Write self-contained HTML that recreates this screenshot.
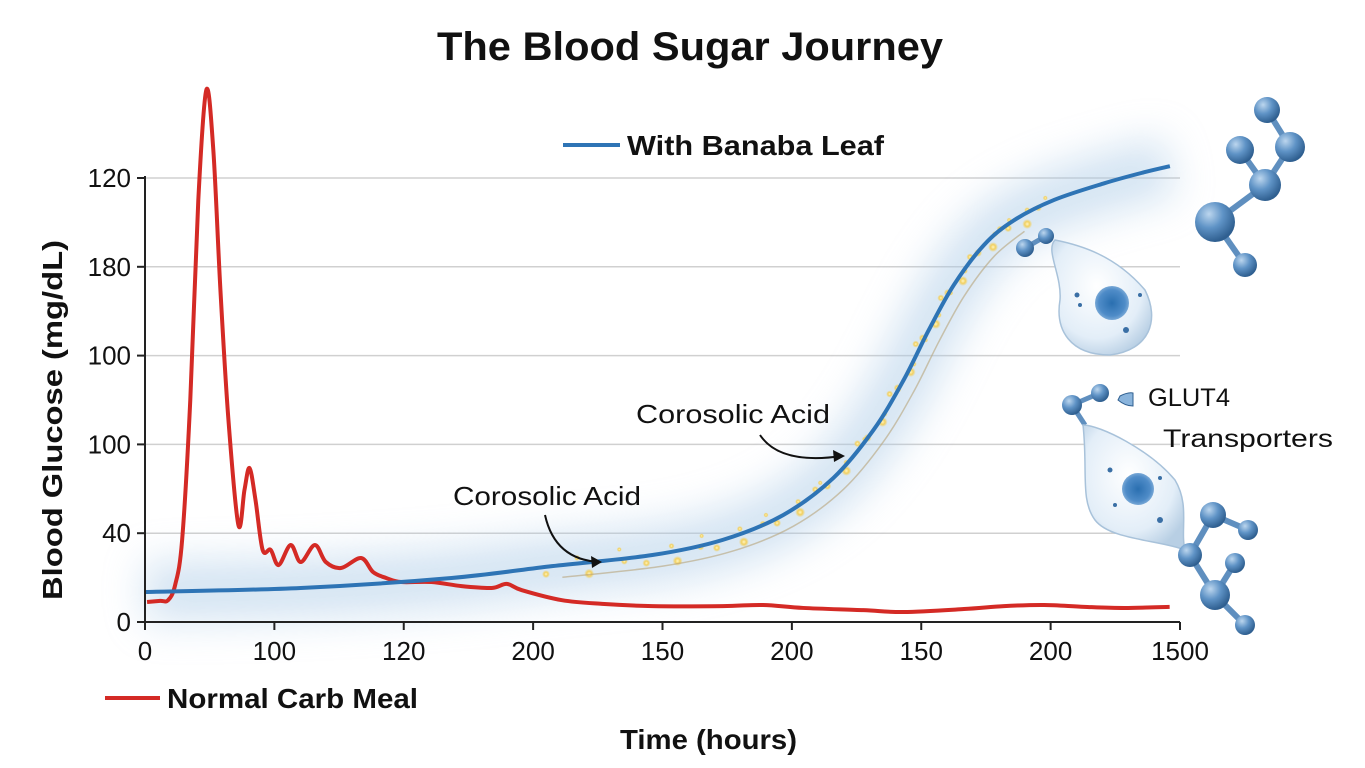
<!DOCTYPE html>
<html><head><meta charset="utf-8"><style>
body{margin:0;background:#fff;}
svg{display:block;font-family:"Liberation Sans",sans-serif;}
</style></head><body>
<svg id="chart" width="1365" height="768" viewBox="0 0 1365 768">
<defs>
<filter id="blur" x="-20%" y="-50%" width="140%" height="200%"><feGaussianBlur stdDeviation="20"/></filter>
<radialGradient id="atom" cx="35%" cy="30%" r="70%"><stop offset="0" stop-color="#bcd6ee"/><stop offset="0.5" stop-color="#5f93c6"/><stop offset="1" stop-color="#2f5f90"/></radialGradient>
<radialGradient id="cell" cx="45%" cy="40%" r="65%"><stop offset="0" stop-color="#ffffff"/><stop offset="0.7" stop-color="#e3eef8"/><stop offset="1" stop-color="#b8cfe4"/></radialGradient>
<radialGradient id="nuc" cx="50%" cy="50%" r="55%"><stop offset="0" stop-color="#2a6fb0"/><stop offset="0.7" stop-color="#4f8cc8"/><stop offset="1" stop-color="#8ab4dc"/></radialGradient>
<radialGradient id="spark"><stop offset="0" stop-color="#fff6c0"/><stop offset="0.5" stop-color="#f2d060"/><stop offset="1" stop-color="#f2d060" stop-opacity="0"/></radialGradient>
</defs>
<text x="437" y="60" textLength="506" lengthAdjust="spacingAndGlyphs" font-size="40" font-weight="bold" fill="#111">The Blood Sugar Journey</text>
<g id="grid"></g>
<g id="glow"></g>
<g id="sparkles"></g>
<g id="series"></g>
<g id="axes"></g>
<line x1="563" y1="145" x2="620" y2="145" stroke="#2e74b5" stroke-width="4"/>
<text x="627" y="155" textLength="257" lengthAdjust="spacingAndGlyphs" font-size="28" font-weight="bold" fill="#111">With Banaba Leaf</text>
<line x1="105" y1="698" x2="160" y2="698" stroke="#d42a25" stroke-width="4"/>
<text x="167" y="708" textLength="251" lengthAdjust="spacingAndGlyphs" font-size="28" font-weight="bold" fill="#111">Normal Carb Meal</text>
<text x="620" y="749" textLength="177" lengthAdjust="spacingAndGlyphs" font-size="28" font-weight="bold" fill="#111">Time (hours)</text>
<text transform="translate(62,600) rotate(-90)" textLength="360" lengthAdjust="spacingAndGlyphs" font-size="28" font-weight="bold" fill="#111">Blood Glucose  (mg/dL)</text>
<text x="453" y="505" textLength="188" lengthAdjust="spacingAndGlyphs" font-size="26" fill="#111">Corosolic Acid</text>
<path d="M545,515 Q555,560 600,562" fill="none" stroke="#111" stroke-width="2"/>
<path d="M602,562 L591,556 L592,568 Z" fill="#111"/>
<text x="636" y="423" textLength="194" lengthAdjust="spacingAndGlyphs" font-size="26" fill="#111">Corosolic Acid</text>
<path d="M760,435 Q780,465 842,456" fill="none" stroke="#111" stroke-width="2"/>
<path d="M845,456 L833,450 L834,462 Z" fill="#111"/>
<g stroke="#5f8fbf" stroke-width="6">
<line x1="1267" y1="110" x2="1290" y2="147"/><line x1="1290" y1="147" x2="1265" y2="185"/><line x1="1240" y1="150" x2="1265" y2="185"/><line x1="1265" y1="185" x2="1215" y2="222"/><line x1="1215" y1="222" x2="1245" y2="265"/>
<g stroke="none" fill="url(#atom)"><circle cx="1267" cy="110" r="13"/><circle cx="1290" cy="147" r="15"/><circle cx="1240" cy="150" r="14"/><circle cx="1265" cy="185" r="16"/><circle cx="1215" cy="222" r="20"/><circle cx="1245" cy="265" r="12"/></g>
</g>
<g>
<line x1="1025" y1="248" x2="1046" y2="236" stroke="#5f8fbf" stroke-width="5"/>
<circle cx="1025" cy="248" r="9" fill="url(#atom)"/><circle cx="1046" cy="236" r="8" fill="url(#atom)"/>
<path d="M1055,240 C1080,245 1115,255 1145,290 C1160,320 1150,350 1110,355 C1070,355 1055,330 1060,300 C1062,275 1045,250 1055,240 Z" fill="url(#cell)" stroke="#a8c2da" stroke-width="1.5"/>
<circle cx="1112" cy="303" r="17" fill="url(#nuc)"/>
<circle cx="1077" cy="295" r="2.5" fill="#3a6fa5"/><circle cx="1140" cy="295" r="2" fill="#3a6fa5"/><circle cx="1126" cy="330" r="3" fill="#3a6fa5"/><circle cx="1080" cy="305" r="2" fill="#3a6fa5"/>
</g>
<g>
<line x1="1072" y1="405" x2="1100" y2="393" stroke="#5f8fbf" stroke-width="5"/><line x1="1072" y1="405" x2="1085" y2="425" stroke="#5f8fbf" stroke-width="5"/>
<circle cx="1072" cy="405" r="10" fill="url(#atom)"/><circle cx="1100" cy="393" r="9" fill="url(#atom)"/>
<path d="M1120,396 Q1128,392 1133,393 L1133,406 Q1125,406 1118,400 Z" fill="#8ab4dc" stroke="#2f5f90"/>
<path d="M1083,425 C1100,425 1150,450 1175,480 C1190,505 1180,530 1185,550 C1160,540 1110,540 1095,520 C1080,500 1088,470 1083,425 Z" fill="url(#cell)" stroke="#a8c2da" stroke-width="1.5"/>
<circle cx="1138" cy="489" r="16" fill="url(#nuc)"/>
<circle cx="1110" cy="470" r="2.5" fill="#3a6fa5"/><circle cx="1160" cy="478" r="2" fill="#3a6fa5"/><circle cx="1115" cy="505" r="2" fill="#3a6fa5"/><circle cx="1160" cy="520" r="3" fill="#3a6fa5"/>
</g>
<text x="1148" y="406" textLength="82" lengthAdjust="spacingAndGlyphs" font-size="25" fill="#111">GLUT4</text>
<text x="1163" y="447" textLength="170" lengthAdjust="spacingAndGlyphs" font-size="25" fill="#111">Transporters</text>
<g stroke="#5f8fbf" stroke-width="6">
<line x1="1213" y1="515" x2="1248" y2="530"/><line x1="1213" y1="515" x2="1190" y2="555"/><line x1="1190" y1="555" x2="1215" y2="595"/><line x1="1235" y1="563" x2="1215" y2="595"/><line x1="1215" y1="595" x2="1245" y2="625"/>
<g stroke="none" fill="url(#atom)"><circle cx="1213" cy="515" r="13"/><circle cx="1248" cy="530" r="10"/><circle cx="1190" cy="555" r="12"/><circle cx="1235" cy="563" r="10"/><circle cx="1215" cy="595" r="15"/><circle cx="1245" cy="625" r="10"/></g>
</g>
</svg>
<script>
const xTicks=[0,100,200,300,400,500,600,700,800];
const xTickLabels=["0","100","120","200","150","200","150","200","1500"];
const yTicks=[0,24,48,72,96,120];
const yTickLabels=["0","40","100","100","180","120"];
const redX=[1.6,11.7,17.9,23.3,28.7,35,41.2,47.4,52.8,58.3,64.5,72.2,76.9,80.8,85.4,90.9,97.1,103.3,112.6,120.4,131.3,139.8,151.5,167,176.3,186.4,198,221.4,244.7,268,279.6,291.3,322.3,353.4,392.2,446.6,477.7,508.7,555.3,586.4,633,664,695,726,757,792];
const redY=[5.4,5.7,5.9,10,22.2,60,114,143.8,127.6,89.7,54.6,26.2,35.7,41.6,33,19.5,19.5,15.4,20.8,16.2,20.8,16.2,14.6,17.3,13.5,11.9,10.8,10.8,9.7,9.2,10.3,8.6,5.9,4.9,4.3,4.3,4.6,3.8,3.2,2.7,3.5,4.3,4.6,4.1,3.8,4.1];
const blueX=[0,120.4,236.9,314.6,392.2,446.6,493.2,532,563.1,586.4,605.8,625.2,648.5,671.8,702.9,741.7,772.8,792.2];
const blueY=[8.1,9.2,11.9,15.1,18.1,22.2,28.9,38.9,51.9,65.4,78.9,91.1,101.9,108.6,114.1,118.6,121.6,123.2];
const X0=145,X1=1180,Y0=622,Y1=178;
const sx=v=>X0+v*(X1-X0)/800;
const sy=v=>Y0-v*(Y0-Y1)/120;
const NS="http://www.w3.org/2000/svg";
function mk(t,a,p){const e=document.createElementNS(NS,t);for(const k in a)e.setAttribute(k,a[k]);p.appendChild(e);return e;}
const grid=document.getElementById('grid'),axes=document.getElementById('axes'),series=document.getElementById('series'),glow=document.getElementById('glow'),sp=document.getElementById('sparkles');
yTicks.forEach((t,i)=>{
 if(t>0){const g=mk('line',{x1:X0,x2:X1,y1:sy(t),y2:sy(t),stroke:'#d0d0d0','stroke-width':1.5},grid);
 
 }
 const tk=mk('line',{x1:X0-8,x2:X0,y1:sy(t),y2:sy(t),stroke:'#222','stroke-width':2},axes);
 
 
 const l=mk('text',{x:X0-14,y:sy(t)+9,'text-anchor':'end','font-size':26,fill:'#111'},axes);l.textContent=yTickLabels[i];
 
 
});
xTicks.forEach((t,i)=>{
 const tk=mk('line',{x1:sx(t),x2:sx(t),y1:Y0,y2:Y0+8,stroke:'#222','stroke-width':2},axes);
 
 
 const l=mk('text',{x:sx(t),y:Y0+38,'text-anchor':'middle','font-size':26,fill:'#111'},axes);l.textContent=xTickLabels[i];
 
 
});
const ax=mk('path',{d:'M'+X0+','+(Y1-2)+' L'+X0+','+Y0+' L'+X1+','+Y0,fill:'none',stroke:'#222','stroke-width':2},axes);


function path(xs,ys){
 const p=xs.map((x,i)=>[sx(x),sy(ys[i])]);let d='M'+p[0][0]+','+p[0][1];
 const n=p.length;
 for(let i=0;i<n-1;i++){
  const a=p[Math.max(i-1,0)],b=p[i],c=p[i+1],e=p[Math.min(i+2,n-1)];
  const c1x=b[0]+(c[0]-a[0])/6,c1y=b[1]+(c[1]-a[1])/6,c2x=c[0]-(e[0]-b[0])/6,c2y=c[1]-(e[1]-b[1])/6;
  d+=' C'+c1x+','+c1y+' '+c2x+','+c2y+' '+c[0]+','+c[1];}
 return d;}
const bd=path(blueX,blueY);
const gl=mk('path',{d:bd,fill:'none',stroke:'#a9c9e6','stroke-width':60,opacity:0.5,filter:'url(#blur)'},glow);


for(let i=3;i<blueX.length-4;i++){
 for(let k=0;k<5;k++){
  const f=k/5,x=blueX[i]+(blueX[i+1]-blueX[i])*f,y=blueY[i]+(blueY[i+1]-blueY[i])*f;
  const off=[-6,5,-3,7,-8][k];
  const c=mk('circle',{cx:sx(x)+off,cy:sy(y)+[8,-6,12,-10,4][k],r:[4,3,5,2.5,3.5][k],fill:'url(#spark)'},sp);
  
  
 }}
const wv=mk('path',{d:path(blueX.slice(3,14).map(v=>v+8),blueY.slice(3,14).map(v=>v-3)),fill:'none',stroke:'#b8a47a','stroke-width':1.5,opacity:0.6},sp);


const rl=mk('path',{d:path(redX,redY),fill:'none',stroke:'#d42a25','stroke-width':4,'stroke-linejoin':'round'},series);


const bl=mk('path',{d:bd,fill:'none',stroke:'#2e74b5','stroke-width':4},series);


</script>
</body></html>
